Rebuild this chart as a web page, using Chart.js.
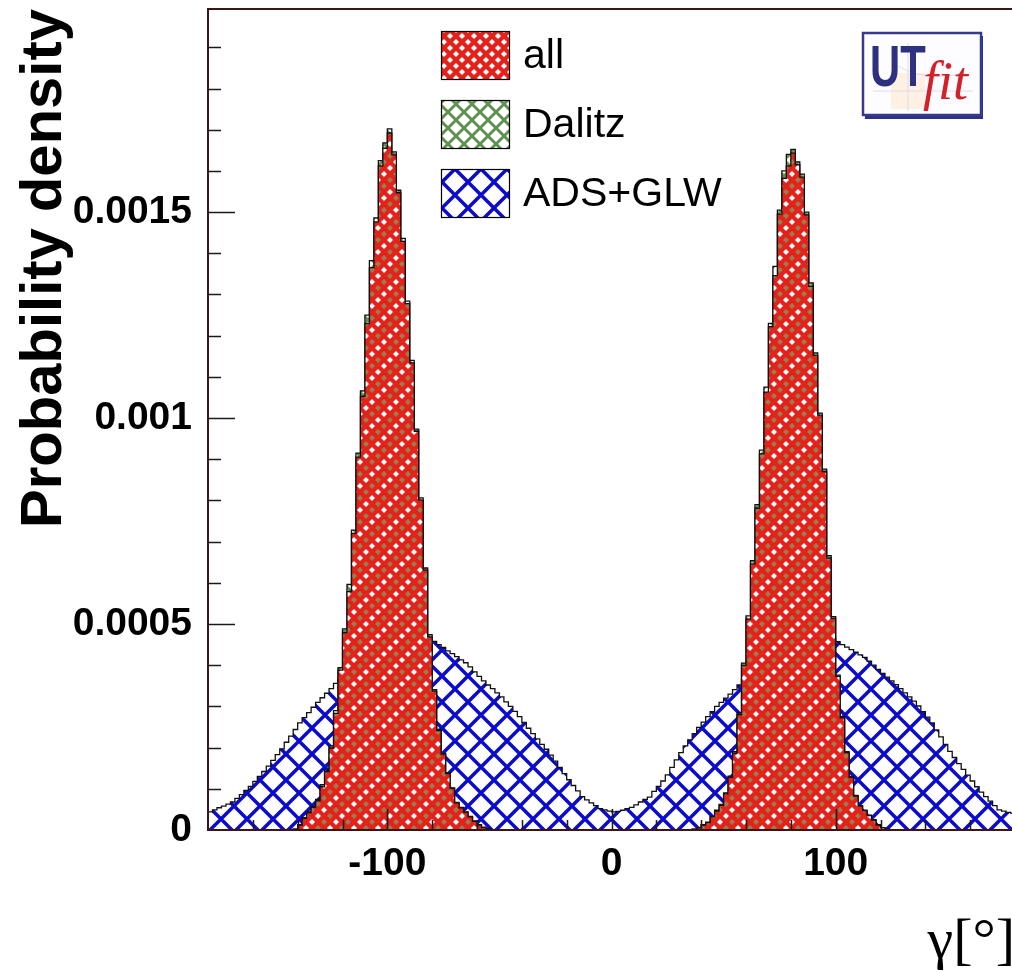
<!DOCTYPE html>
<html>
<head>
<meta charset="utf-8">
<script src="https://cdn.jsdelivr.net/npm/chart.js@4.4.1/dist/chart.umd.min.js"></script>
<style>
  html, body { margin: 0; padding: 0; background: #fff; overflow: hidden; }
  canvas { display: block; }
</style>
</head>
<body>
<canvas id="gammaChart" width="1016" height="972"></canvas>
<script>
// histogram binning: 180 bins of 2 degrees from -180 to 180
const binStart = -180;
const binWidth = 2;
const unit = 1e-6; // values below are in units of 1e-6

const allDensity = [
  0, 0, 0, 0, 0, 0, 0, 0, 0, 0, 0, 0, 0, 0, 0, 0, 0, 0, 0,
  2, 12, 28, 42, 55, 71, 105, 142, 199, 283, 388, 479, 579, 720, 905,
  1053, 1229, 1365, 1476, 1612, 1655, 1692, 1639, 1547, 1429, 1278, 1134, 968, 801, 631,
  469, 337, 241, 184, 137, 101, 66, 54, 43, 32, 21, 12, 6, 3, 1,
  0, 0, 0, 0, 0, 0, 0, 0, 0, 0, 0, 0, 0, 0, 0, 0, 0, 0, 0, 0, 0, 0, 0, 0, 0, 0,
  0, 0, 0, 0, 0, 0, 0, 0, 0, 0, 0, 0, 0, 0, 0, 0, 0,
  1, 2, 5, 12, 18, 32, 46, 60, 88, 128, 186, 280, 399, 512, 646,
  781, 913, 1063, 1222, 1346, 1495, 1582, 1612, 1643, 1615, 1585, 1493, 1320, 1152, 1007,
  870, 660, 514, 373, 272, 188, 128, 82, 58, 47, 35, 24, 12, 5, 2, 1,
  0, 0, 0, 0, 0, 0, 0, 0, 0, 0, 0, 0, 0, 0, 0, 0, 0, 0, 0, 0, 0, 0, 0, 0, 0, 0, 0,
];

const dalitzDensity = [
  0, 0, 0, 0, 0, 0, 0, 0, 0, 0, 0, 0, 0, 0, 0, 0, 0, 0, 0,
  2, 13, 30, 44, 57, 74, 110, 146, 204, 290, 394, 488, 596, 728, 915,
  1066, 1250, 1382, 1486, 1625, 1668, 1702, 1646, 1553, 1436, 1284, 1140, 973, 806, 636,
  474, 341, 244, 186, 139, 102, 67, 55, 44, 33, 22, 13, 7, 3, 1,
  0, 0, 0, 0, 0, 0, 0, 0, 0, 0, 0, 0, 0, 0, 0, 0, 0, 0, 0, 0, 0, 0, 0, 0, 0, 0,
  0, 0, 0, 0, 0, 0, 0, 0, 0, 0, 0, 0, 0, 0, 0, 0, 0,
  1, 2, 6, 13, 19, 33, 48, 62, 90, 131, 190, 285, 405, 520, 654,
  790, 922, 1075, 1230, 1368, 1505, 1600, 1640, 1652, 1622, 1592, 1500, 1328, 1158, 1012,
  876, 666, 518, 376, 275, 190, 130, 84, 59, 48, 36, 25, 13, 6, 2, 1,
  0, 0, 0, 0, 0, 0, 0, 0, 0, 0, 0, 0, 0, 0, 0, 0, 0, 0, 0, 0, 0, 0, 0, 0, 0, 0, 0,
];

const adsGlwDensity = [
  44, 49, 54, 58, 63, 68, 77, 86, 96, 106,
  118, 130, 142, 155, 169, 183, 197, 213, 228, 244,
  260, 273, 285, 298, 310, 321, 332, 343, 356, 370,
  381, 391, 402, 412, 422, 432, 442, 447, 451, 455,
  459, 463, 467, 471, 471, 472, 472, 473, 473, 466,
  458, 450, 443, 435, 428, 421, 413, 406, 396, 384,
  373, 362, 352, 343, 333, 323, 311, 300, 288, 275,
  261, 247, 234, 221, 208, 196, 182, 167, 152, 137,
  122, 108, 95, 81, 73, 66, 59, 52, 49, 46,
  44, 45, 48, 52, 55, 61, 68, 74, 80, 94,
  106, 119, 134, 152, 170, 188, 204, 219, 234, 249,
  262, 275, 287, 300, 310, 320, 330, 341, 352, 365,
  377, 390, 402, 412, 422, 432, 442, 447, 451, 455,
  459, 463, 467, 471, 471, 472, 472, 473, 473, 465,
  457, 450, 444, 438, 432, 425, 419, 410, 400, 390,
  380, 371, 362, 353, 343, 333, 323, 313, 301, 287,
  274, 260, 243, 226, 208, 191, 176, 161, 147, 133,
  119, 105, 92, 81, 70, 59, 49, 46, 43, 41,
];

const xTickValues = [-100, 0, 100];
const xTickLabels = ["-100", "0", "100"];
const yTickValues = [0, 0.0005, 0.001, 0.0015];
const yTickLabels = ["0", "0.0005", "0.001", "0.0015"];

const sans = "'Liberation Sans', Arial, Helvetica, sans-serif";
const serif = "'Liberation Serif', 'Times New Roman', serif";

const canvas = document.getElementById("gammaChart");
const ctx = canvas.getContext("2d");

// ROOT style cross hatch (lines at +-45 degrees)
function hatch(size, color, width) {
  const c = document.createElement("canvas");
  c.width = c.height = size;
  const g = c.getContext("2d");
  g.strokeStyle = color;
  g.lineWidth = width;
  g.beginPath();
  for (let k = -1; k <= 1; k++) {
    g.moveTo(k * size, 0);
    g.lineTo(k * size + size, size);
    g.moveTo(k * size + size, 0);
    g.lineTo(k * size, size);
  }
  g.stroke();
  return ctx.createPattern(c, "repeat");
}

// dense hatch: solid fill with small diamond holes
function holedHatch(tile, step, fill, holeColors, r) {
  const c = document.createElement("canvas");
  c.width = c.height = tile;
  const g = c.getContext("2d");
  g.fillStyle = fill;
  g.fillRect(0, 0, tile, tile);
  const n = tile / step;
  for (let i = 0; i < n; i++) {
    for (let j = 0; j < n; j++) {
      if ((i + j) % 2 === 0) continue;
      g.fillStyle = holeColors[((i + j - 1) / 2) % holeColors.length];
      for (const dx of [-tile, 0, tile]) {
        for (const dy of [-tile, 0, tile]) {
          const cx = i * step + dx, cy = j * step + dy;
          g.beginPath();
          g.moveTo(cx, cy - r);
          g.lineTo(cx + r, cy);
          g.lineTo(cx, cy + r);
          g.lineTo(cx - r, cy);
          g.closePath();
          g.fill();
        }
      }
    }
  }
  return ctx.createPattern(c, "repeat");
}

const redFill = holedHatch(24, 6, "#e3231b", ["#ffffff", "#9c7d4c"], 3);
const redLegendFill = holedHatch(24, 6, "#e3231b", ["#ffffff"], 3);
const greenFill = hatch(16, "#5f9151", 3);
const blueFill = hatch(26, "#0b0bd0", 3.5);

function histPoints(values) {
  const pts = values.map((v, i) => ({ x: binStart + i * binWidth, y: v * unit }));
  pts.push({ x: binStart + values.length * binWidth, y: values[values.length - 1] * unit });
  return pts;
}

const histStyle = {
  stepped: true,
  fill: "origin",
  borderColor: "#111",
  borderWidth: 1.3,
  pointRadius: 0,
};

const data = {
  datasets: [
    { label: "all", data: histPoints(allDensity), backgroundColor: redFill, legendFill: redLegendFill, ...histStyle },
    { label: "Dalitz", data: histPoints(dalitzDensity), backgroundColor: greenFill, ...histStyle },
    { label: "ADS+GLW", data: histPoints(adsGlwDensity), backgroundColor: blueFill, ...histStyle },
  ],
};

// inward ticks and frame, ROOT style
const rootAxes = {
  id: "rootAxes",
  afterDatasetsDraw(chart) {
    const { ctx, chartArea: a, scales: { x, y } } = chart;
    ctx.save();
    ctx.strokeStyle = "#1a1a1a";
    ctx.lineWidth = 1.5;
    ctx.beginPath();
    for (let k = 1; k < 20; k++) {
      const py = Math.round(y.getPixelForValue(k * 0.0001)) + 0.5;
      const len = k % 5 === 0 ? 27 : 13;
      ctx.moveTo(a.left, py);
      ctx.lineTo(a.left + len, py);
    }
    for (let k = 1; k < 18; k++) {
      const v = -180 + k * 20;
      const px = Math.round(x.getPixelForValue(v)) + 0.5;
      const len = v % 100 === 0 ? 21 : 10;
      ctx.moveTo(px, a.bottom);
      ctx.lineTo(px, a.bottom - len);
    }
    ctx.stroke();
    ctx.strokeStyle = "#3d1515";
    ctx.lineWidth = 2;
    ctx.strokeRect(a.left, a.top, a.right - a.left, a.bottom - a.top);
    ctx.restore();
  },
};

const rootLegend = {
  id: "rootLegend",
  afterDatasetsDraw(chart) {
    const ctx = chart.ctx;
    ctx.save();
    ctx.font = "41px " + sans;
    ctx.textBaseline = "middle";
    chart.data.datasets.forEach((ds, i) => {
      const top = 31 + i * 69;
      ctx.fillStyle = "#fff";
      ctx.fillRect(441, top, 68, 48);
      ctx.fillStyle = ds.legendFill || ds.backgroundColor;
      ctx.fillRect(441, top, 68, 48);
      ctx.strokeStyle = "#000";
      ctx.lineWidth = 1.2;
      ctx.strokeRect(441.5, top + 0.5, 68, 48);
      ctx.fillStyle = "#000";
      ctx.fillText(ds.label, 523, top + 26);
    });
    ctx.restore();
  },
};

const utfitLogo = {
  id: "utfitLogo",
  afterDraw(chart) {
    const ctx = chart.ctx;
    const lx = 863, ly = 33, lw = 118, lh = 82;
    ctx.save();
    ctx.fillStyle = "#fdfdff";
    ctx.fillRect(lx, ly, lw, lh);
    // faint plot behind the lettering
    ctx.fillStyle = "rgba(255, 225, 190, 0.45)";
    ctx.fillRect(lx + 28, ly + 40, 34, 36);
    ctx.strokeStyle = "#dcdcf0";
    ctx.lineWidth = 1;
    ctx.beginPath();
    ctx.moveTo(lx + 10, ly + 58); ctx.lineTo(lx + 110, ly + 58);
    ctx.moveTo(lx + 45, ly + 10); ctx.lineTo(lx + 45, ly + 78);
    ctx.moveTo(lx + 30, ly + 30); ctx.quadraticCurveTo(lx + 60, ly + 50, lx + 100, ly + 40);
    ctx.stroke();
    ctx.fillStyle = "#2f3283";
    ctx.fillRect(lx + 2, ly + lh - 1, lw, 5);
    ctx.fillRect(lx + lw - 1, ly + 3, 3, lh);
    ctx.strokeStyle = "#363a8c";
    ctx.lineWidth = 2.5;
    ctx.strokeRect(lx, ly, lw, lh);
    ctx.save();
    ctx.translate(lx + 7, ly + 53);
    ctx.scale(0.72, 1);
    ctx.font = "bold 58px " + sans;
    ctx.fillStyle = "#2e3180";
    ctx.fillText("UT", 0, 0);
    ctx.restore();
    ctx.font = "italic 54px " + serif;
    ctx.fillStyle = "#d3202a";
    ctx.fillText("fit", lx + 60, ly + 66);
    ctx.restore();
  },
};

const config = {
  type: "line",
  data: data,
  options: {
    responsive: false,
    animation: false,
    layout: { padding: { top: 9, right: 1, left: 0, bottom: 0 } },
    plugins: {
      legend: { display: false },
      tooltip: { enabled: false },
    },
    scales: {
      x: {
        type: "linear",
        min: -180,
        max: 180,
        grid: { display: false },
        border: { display: false },
        afterBuildTicks: (scale) => {
          scale.ticks = xTickValues.map((v) => ({ value: v }));
        },
        afterFit: (scale) => {
          scale.height = 142;
          scale.paddingLeft = 0;
          scale.paddingRight = 0;
        },
        ticks: {
          autoSkip: false,
          maxRotation: 0,
          padding: 3,
          color: "#000",
          font: { family: sans, size: 39, weight: "bold" },
          callback: (v) => xTickLabels[xTickValues.indexOf(v)],
        },
        title: {
          display: true,
          text: "γ[°]",
          align: "end",
          color: "#000",
          padding: 0,
          font: { family: serif, size: 58, lineHeight: 1 },
        },
      },
      y: {
        min: 0,
        max: 0.001993,
        grid: { display: false },
        border: { display: false },
        afterBuildTicks: (scale) => {
          scale.ticks = yTickValues.map((v) => ({ value: v }));
        },
        afterFit: (scale) => {
          scale.width = 208;
          scale.paddingTop = 0;
          scale.paddingBottom = 0;
        },
        ticks: {
          padding: 8,
          color: "#000",
          font: { family: sans, size: 39, weight: "bold" },
          callback: (v) => yTickLabels[yTickValues.indexOf(v)],
        },
        title: {
          display: true,
          text: "Probability density",
          align: "end",
          color: "#000",
          padding: { top: 10, bottom: 0 },
          font: { family: sans, size: 58, weight: "bold", lineHeight: 1.2 },
        },
      },
    },
  },
  plugins: [rootAxes, rootLegend, utfitLogo],
};

const gammaChart = new Chart(ctx, config);
</script>
</body>
</html>
